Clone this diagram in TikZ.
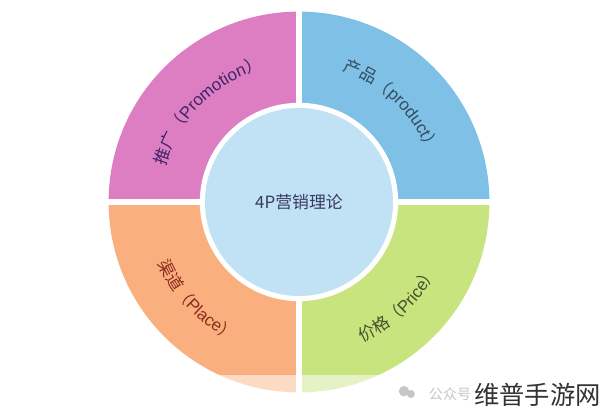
\documentclass[tikz,border=0pt]{standalone}
\usepackage{fontspec}
\setmainfont{Liberation Sans}
\newfontfamily\cjk{Noto Sans CJK SC}
\usetikzlibrary{decorations.text}
\definecolor{promo}{RGB}{222,126,194}
\definecolor{prod}{RGB}{126,192,230}
\definecolor{place}{RGB}{250,176,126}
\definecolor{price}{RGB}{200,228,126}
\definecolor{core}{RGB}{192,226,244}
\newcommand\lsz{\fontsize{12}{14}\selectfont}
\begin{document}
\begin{tikzpicture}[
    arclabel/.style n args={4}{decorate,decoration={text along path,text align=center,text color=#1,
        text format delimiters={|}{|},text={|\lsz\cjk|#2（|\lsz\normalfont|#3|\lsz\cjk|）}}}
  ]
    \useasboundingbox[fill=white] (0,0) rectangle (15,10.4);
    \coordinate (c) at (7.475,5.35);
    \fill[promo] (c) -- ++(90:4.76) arc[start angle=90,end angle=180,radius=4.76] -- cycle;
    \fill[prod] (c) -- ++(0:4.76) arc[start angle=0,end angle=90,radius=4.76] -- cycle;
    \fill[place] (c) -- ++(180:4.76) arc[start angle=180,end angle=270,radius=4.76] -- cycle;
    \fill[price] (c) -- ++(270:4.76) arc[start angle=270,end angle=360,radius=4.76] -- cycle;
    \draw[white,line width=0.14cm] (c) ++(-5,0) -- ++(10,0);
    \draw[white,line width=0.14cm] (c) ++(0,-5) -- ++(0,10);
    \fill[white] (c) circle (2.48);
    \node[circle,fill=core,minimum size=4.7cm,text=black!75!blue!55!gray,font=\cjk\fontsize{12}{14}\selectfont] (core) at (c) {4P营销理论};
    \path[arclabel={black!65!promo!80!blue}{推广}{Promotion}{}] (c) ++(177:3.45) arc[start angle=177,end angle=93,radius=3.45];
    \path[arclabel={black!60!prod}{产品}{product}{}] (c) ++(88:3.45) arc[start angle=88,end angle=4,radius=3.45];
    \path[arclabel={black!65!place!70!red}{渠道}{Place}{}] (c) ++(182:3.85) arc[start angle=182,end angle=266,radius=3.85];
    \path[arclabel={black!65!price}{价格}{Price}{}] (c) ++(272:3.85) arc[start angle=272,end angle=356,radius=3.85];
    \fill[white,opacity=0.55] (0,0.55) rectangle (15,1.03);
    \fill[gray!45] (10.1,0.62) circle (0.13) (10.27,0.55) circle (0.1);
    \node[text=gray!45,anchor=west,font=\cjk\fontsize{10}{12}\selectfont] (gzh) at (10.6,0.55) {公众号};
    \node[text=black!80,anchor=west,font=\cjk\fontsize{18}{20}\selectfont,inner sep=0pt] (site) at (11.85,0.53) {维普手游网};
\end{tikzpicture}
\end{document}
